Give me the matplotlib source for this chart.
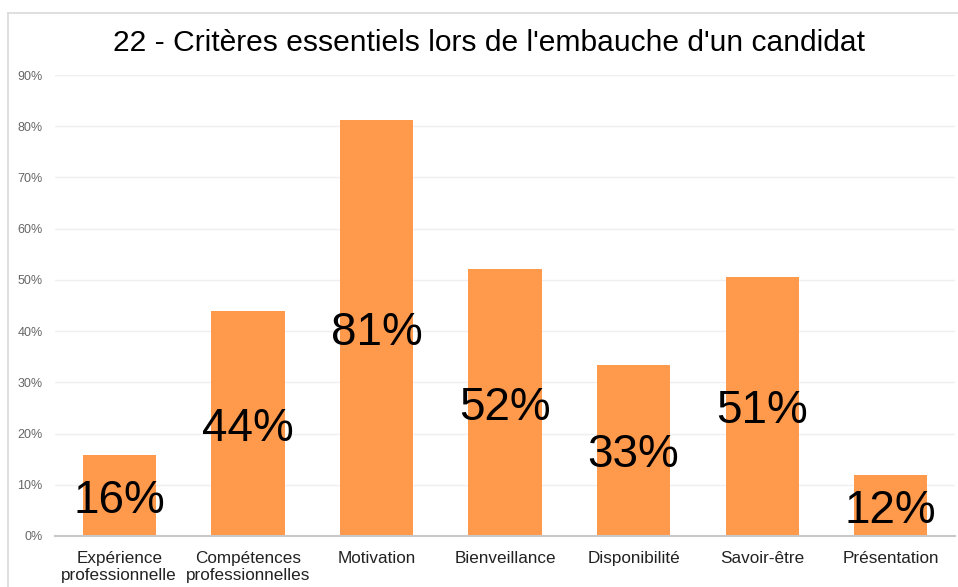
import matplotlib.pyplot as plt
from matplotlib.lines import Line2D

plt.rcParams['font.family'] = ['Liberation Sans', 'DejaVu Sans']

categories = ['Expérience\nprofessionnelle', 'Compétences\nprofessionnelles', 'Motivation',
              'Bienveillance', 'Disponibilité', 'Savoir-être', 'Présentation']
values = [15.8, 43.9, 81.2, 52.1, 33.4, 50.6, 11.9]
labels = ['16%', '44%', '81%', '52%', '33%', '51%', '12%']
yticks = [0, 10, 20, 30, 40, 50, 60, 70, 80, 90]

W, H = 958, 587
fig = plt.figure(figsize=(W / 100, H / 100), dpi=100)
fig.patch.set_facecolor('white')

# chart frame (top and left visible)
fig.add_artist(Line2D([8 / W, 8 / W], [0, 1 - 13 / H], color='#d9d9d9', lw=1.2))
fig.add_artist(Line2D([8 / W, 1], [1 - 13 / H, 1 - 13 / H], color='#d9d9d9', lw=1.2))

ax = fig.add_axes([55 / W, 51 / H, (955 - 55) / W, (536 - 75) / H])
x = list(range(len(categories)))
bars = ax.bar(x, values, width=0.57, color='#FF994C', zorder=2)
ax.set_xlim(-0.5, len(categories) - 0.5)
ax.set_ylim(0, 90)

for xi, v, lab in zip(x, values, labels):
    ax.text(xi, v / 2, lab, ha='center', va='center_baseline', fontsize=33,
            color='black', zorder=3)

ax.set_yticks(yticks)
ax.set_yticklabels([f'{t}%' for t in yticks], fontsize=9, color='#666666')
ax.set_xticks(x)
ax.set_xticklabels(categories, fontsize=12.3, color='#222222', linespacing=1.15)
ax.tick_params(axis='both', length=0)
ax.tick_params(axis='y', pad=9)
ax.tick_params(axis='x', pad=11)
ax.grid(axis='y', color='#efefef', lw=1, zorder=0)
for s in ['top', 'right', 'left']:
    ax.spines[s].set_visible(False)
ax.spines['bottom'].set_color('#c8c8c8')
ax.spines['bottom'].set_linewidth(1.5)

fig.text(489 / W, 1 - 43 / H, "22 - Critères essentiels lors de l'embauche d'un candidat",
         ha='center', va='center', fontsize=21.6, color='black')

fig.savefig('out.png', dpi=100, facecolor='white')
